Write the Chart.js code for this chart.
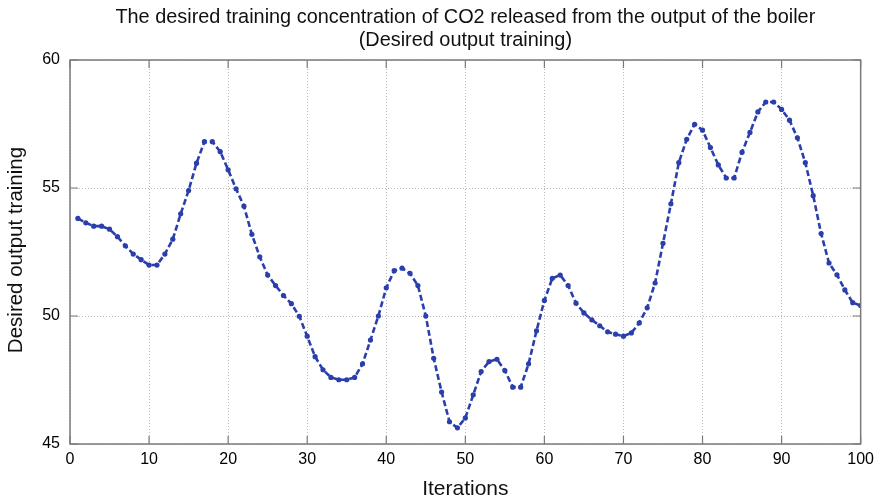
<!DOCTYPE html>
<html>
<head>
<meta charset="utf-8">
<script src="https://cdn.jsdelivr.net/npm/chart.js@4.4.1/dist/chart.umd.min.js"></script>
<style>
  html, body { margin: 0; padding: 0; background: #fff; }
  #wrap { width: 880px; height: 501px; }
</style>
</head>
<body>
<div id="wrap"><canvas id="co2Chart" width="880" height="501"></canvas></div>
<script>
// Iteration index and desired CO2 output (training target)
const iterations = Array.from({ length: 100 }, (_, i) => i + 1)
const desiredOutput = [
  53.81, 53.64, 53.51, 53.51, 53.39, 53.10, 52.74, 52.42, 52.20, 51.99,
  51.99, 52.42, 53.00, 53.99, 54.90, 55.97, 56.81, 56.81, 56.42, 55.71,
  54.97, 54.29, 53.19, 52.31, 51.60, 51.19, 50.80, 50.48, 49.99, 49.21,
  48.41, 47.90, 47.60, 47.51, 47.51, 47.60, 48.13, 49.06, 50.00, 51.10,
  51.77, 51.87, 51.67, 51.19, 50.00, 48.35, 47.03, 45.87, 45.63, 46.02,
  46.92, 47.83, 48.22, 48.31, 47.87, 47.22, 47.22, 48.13, 49.42, 50.61,
  51.47, 51.60, 51.19, 50.50, 50.12, 49.85, 49.62, 49.38, 49.29, 49.21,
  49.34, 49.73, 50.32, 51.29, 52.84, 54.38, 55.99, 56.90, 57.49, 57.26,
  56.58, 55.90, 55.39, 55.39, 56.40, 57.17, 57.97, 58.36, 58.36, 58.07,
  57.65, 56.96, 55.99, 54.70, 53.22, 52.07, 51.61, 51.02, 50.52, 50.41,
]
const xTicks = [0, 10, 20, 30, 40, 50, 60, 70, 80, 90, 100]
const yTicks = [45, 50, 55, 60]

const titleLines = [
  "The desired training concentration of CO2 released from the output of the boiler",
  "(Desired output training)",
]
const xLabel = "Iterations"
const yLabel = "Desired output training"

const FONT = "'Liberation Sans', Arial, sans-serif"
const LINE_BLUE = "rgb(42, 62, 172)"

// MATLAB-like frame: grey box, inward tick marks, title and axis labels
const framePlugin = {
  id: "frame",
  afterDraw(chart) {
    const { ctx, chartArea: a, scales } = chart
    ctx.save()
    ctx.strokeStyle = "#7a7a7a"
    ctx.lineWidth = 1.5
    ctx.strokeRect(a.left, a.top, a.right - a.left, a.bottom - a.top)

    ctx.lineWidth = 1.2
    ctx.beginPath()
    xTicks.forEach((v) => {
      const px = scales.x.getPixelForValue(v)
      ctx.moveTo(px, a.bottom); ctx.lineTo(px, a.bottom - 8)
      ctx.moveTo(px, a.top); ctx.lineTo(px, a.top + 8)
    })
    yTicks.forEach((v) => {
      const py = scales.y.getPixelForValue(v)
      ctx.moveTo(a.left, py); ctx.lineTo(a.left + 8, py)
      ctx.moveTo(a.right, py); ctx.lineTo(a.right - 8, py)
    })
    ctx.stroke()

    const cx = (a.left + a.right) / 2
    ctx.fillStyle = "#111"
    ctx.textAlign = "center"
    ctx.textBaseline = "alphabetic"
    ctx.font = "19.9px " + FONT
    ctx.fillText(titleLines[0], cx, 23)
    ctx.fillText(titleLines[1], cx, 46)

    ctx.font = "21px " + FONT
    ctx.fillText(xLabel, cx, 495)

    ctx.translate(22, (a.top + a.bottom) / 2 - 2)
    ctx.rotate(-Math.PI / 2)
    ctx.font = "20.5px " + FONT
    ctx.fillText(yLabel, 0, 0)
    ctx.restore()
  },
}

const ctx = document.getElementById("co2Chart").getContext("2d")
new Chart(ctx, {
  type: "line",
  data: {
    datasets: [
      {
        data: iterations.map((it, i) => ({ x: it, y: desiredOutput[i] })),
        borderColor: LINE_BLUE,
        backgroundColor: LINE_BLUE,
        borderWidth: 2.6,
        borderDash: [6, 3],
        pointRadius: 2.6,
        pointStyle: "circle",
        pointBorderWidth: 0,
        tension: 0,
        fill: false,
      },
    ],
  },
  options: {
    responsive: false,
    animation: false,
    devicePixelRatio: 1,
    layout: { padding: { top: 60, right: 18, left: 0, bottom: 0 } },
    plugins: {
      legend: { display: false },
      tooltip: { enabled: false },
    },
    scales: {
      x: {
        type: "linear",
        min: 0,
        max: 100,
        afterBuildTicks: (scale) => { scale.ticks = xTicks.map((v) => ({ value: v })) },
        afterFit: (scale) => { scale.height = 57 },
        ticks: {
          color: "#000",
          font: { family: FONT, size: 16 },
          padding: 6,
          maxRotation: 0,
        },
        grid: { color: "#b8b8b8", lineWidth: 1, drawTicks: false },
        border: { display: false, dash: [1, 2] },
      },
      y: {
        type: "linear",
        min: 45,
        max: 60,
        afterBuildTicks: (scale) => { scale.ticks = yTicks.map((v) => ({ value: v })) },
        afterFit: (scale) => { scale.width = 70 },
        ticks: {
          color: "#000",
          font: { family: FONT, size: 16 },
          padding: 10,
        },
        grid: { color: "#b8b8b8", lineWidth: 1, drawTicks: false },
        border: { display: false, dash: [1, 2] },
      },
    },
  },
  plugins: [framePlugin],
})
</script>
</body>
</html>
